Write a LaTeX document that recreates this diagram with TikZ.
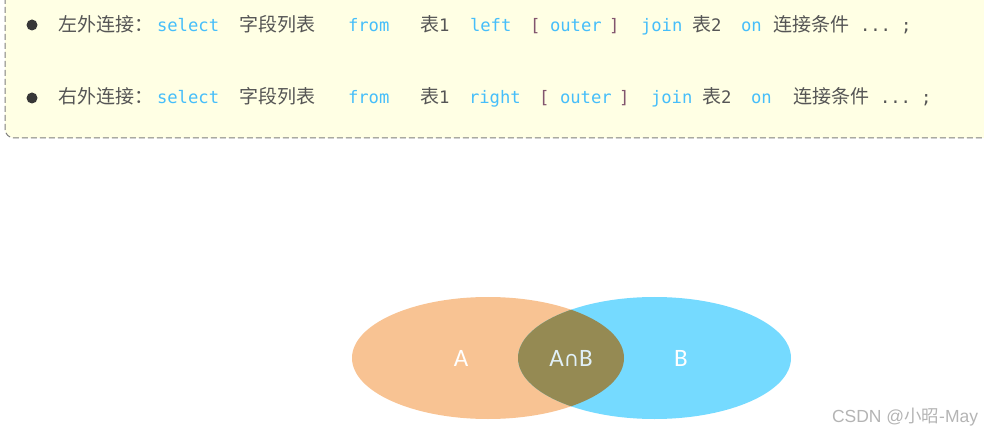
\documentclass[tikz,border=0pt]{standalone}
\usepackage{fontspec}
\setmonofont{DejaVu Sans Mono}
\newfontfamily\cjk{Noto Sans CJK SC}
\newfontfamily\vennfont{Carlito}
\newfontfamily\symfont{DejaVu Sans}
\newfontfamily\wmfont{Liberation Sans}
\newcommand\mono{\ttfamily\fontsize{17.2}{19}\selectfont}
\definecolor{boxfill}{RGB}{255,255,228}
\definecolor{boxline}{RGB}{125,125,125}
\definecolor{kwblue}{RGB}{70,190,250}
\definecolor{txtgray}{RGB}{85,85,85}
\definecolor{brk}{RGB}{130,85,110}
\definecolor{dotc}{RGB}{55,55,55}
\definecolor{acol}{RGB}{248,195,147}
\definecolor{bcol}{RGB}{117,218,255}
\definecolor{abcol}{RGB}{149,138,83}
\definecolor{abtxt}{RGB}{225,240,248}
\definecolor{wmgray}{RGB}{180,180,180}
\begin{document}
\begin{tikzpicture}[x=1pt,y=-1pt,
  tok/.style={anchor=base west,inner sep=0pt,outer sep=0pt},
  kw/.style={tok,text=kwblue,font=\mono},
  cn/.style={tok,text=txtgray,font=\cjk\fontsize{19}{20}\selectfont},
  gm/.style={tok,text=txtgray,font=\mono},
  bk/.style={tok,text=brk,font=\mono},
  bullet/.style={circle,fill=dotc,inner sep=0pt,minimum size=11pt},
  vtxt/.style={anchor=base,inner sep=0pt,text=white,font=\vennfont\fontsize{25}{27}\selectfont},
  edge/.style={draw=boxline,line width=1pt,dash pattern=on 6pt off 3pt}]
\useasboundingbox (0,0) rectangle (984,435);
% note box
\fill[boxfill,rounded corners=9pt] (5,-30) -- (5,138) -- (1010,138) -- (1010,-30) -- cycle;
\draw[edge,rounded corners=9pt] (5,-2) -- (5,138) -- (990,138);
% line 1
\node[bullet] (b1) at (32,25) {};
\node[cn] (l1a) at (58,32) {左外连接：};
\node[kw] (l1b) at (157,32) {select};
\node[cn] (l1c) at (239,32) {字段列表};
\node[kw] (l1d) at (348,32) {from};
\node[cn] (l1e) at (420,32) {表{\mono 1}};
\node[kw] (l1f) at (470,32) {left};
\node[bk] (l1g) at (530,32) {[};
\node[kw] (l1h) at (550,32) {outer};
\node[bk] (l1i) at (609,32) {]};
\node[kw] (l1j) at (641,32) {join};
\node[cn] (l1k) at (692,32) {表{\mono 2}};
\node[kw] (l1l) at (741,32) {on};
\node[cn] (l1m) at (773,32) {连接条件};
\node[gm] (l1n) at (860,32) {...};
\node[gm] (l1o) at (901,32) {;};
% line 2
\node[bullet] (b2) at (32,98) {};
\node[cn] (l2a) at (58,104) {右外连接：};
\node[kw] (l2b) at (157,104) {select};
\node[cn] (l2c) at (239,104) {字段列表};
\node[kw] (l2d) at (348,104) {from};
\node[cn] (l2e) at (420,104) {表{\mono 1}};
\node[kw] (l2f) at (469,104) {right};
\node[bk] (l2g) at (539,104) {[};
\node[kw] (l2h) at (560,104) {outer};
\node[bk] (l2i) at (619,104) {]};
\node[kw] (l2j) at (651,104) {join};
\node[cn] (l2k) at (702,104) {表{\mono 2}};
\node[kw] (l2l) at (751,104) {on};
\node[cn] (l2m) at (793,104) {连接条件};
\node[gm] (l2n) at (880,104) {...};
\node[gm] (l2o) at (921,104) {;};
% venn
\fill[acol] (488,358) ellipse [x radius=136pt,y radius=61pt];
\fill[bcol] (654.5,358) ellipse [x radius=136.5pt,y radius=61pt];
\begin{scope}
\clip (488,358) ellipse [x radius=136pt,y radius=61pt];
\fill[abcol] (654.5,358) ellipse [x radius=136.5pt,y radius=61pt];
\end{scope}
\node[vtxt] (A) at (461,366) {A};
\node[vtxt,text=abtxt] (AB) at (571,366) {A{\symfont\fontsize{21}{24}\selectfont ∩}B};
\node[vtxt] (B) at (681,366) {B};
% watermark
\node[tok,text=wmgray,font=\wmfont\fontsize{17.5}{19}\selectfont] (wm) at (832,422.5) {CSDN @{\cjk 小昭}-May};
\end{tikzpicture}
\end{document}
